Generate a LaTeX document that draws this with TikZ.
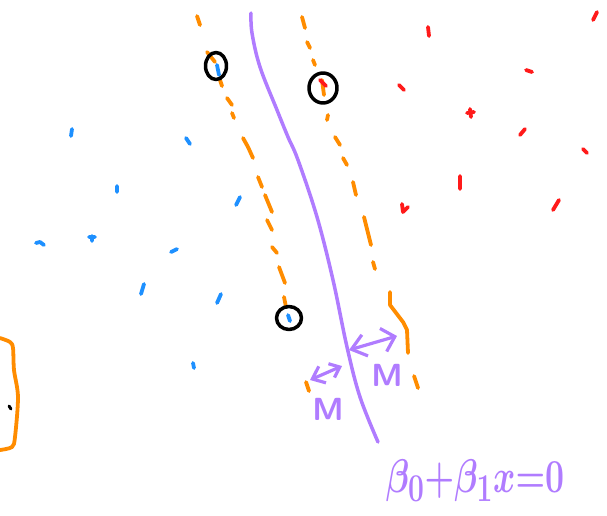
\documentclass[tikz,border=0pt]{standalone}
\usepackage{fontspec}
\usetikzlibrary{arrows.meta,shapes.geometric}
\definecolor{hpurple}{RGB}{176,124,255}
\definecolor{horange}{RGB}{255,140,0}
\definecolor{hblue}{RGB}{30,144,255}
\definecolor{hred}{RGB}{255,26,26}
\begin{document}
\begin{tikzpicture}[x=1pt,y=-1pt,line cap=round,line join=round,
  hyper/.style={hpurple,line width=3.5pt},
  margin/.style={horange,line width=3.8pt},
  ring/.style={draw=black,line width=3.5pt,ellipse,inner sep=0pt},
  bpt/.style={hblue,line width=3.8pt},
  rpt/.style={hred,line width=3.8pt},
  marrbig/.style={hpurple,line width=3.2pt,{Straight Barb[length=14pt,width=22pt]}-{Straight Barb[length=12pt,width=24pt]}},
  marrsmall/.style={hpurple,line width=3.2pt,{Straight Barb[length=11pt,width=18pt]}-{Straight Barb[length=9pt,width=15pt]}},
  lbl/.style={text=hpurple,inner sep=0pt}]
\useasboundingbox (0,0) rectangle (607,515);
% separating hyperplane
\draw[hyper] plot[smooth,tension=0.6] coordinates {(251,13) (252,33) (260,67) (277,110) (288,137) (298,160) (317,217) (333,280) (347,347) (360,397) (378,442)};
% left margin (dashed, hand drawn)
\draw[margin] (197,16)--(200,25) (207,52)--(215,62) (220,80)--(222,86)
  (227,98)--(232,105) (232,113)--(234,118) (243,138)--(248,147)--(253,158)
  (258,177)--(262,187) (265,195)--(272,212) (267,220)--(272,230)
  (272,247)--(277,253) (279,267)--(285,283) (284,297)--(286,307);
% right margin
\draw[margin] (302,17)--(305,28) (307,42)--(310,48) (313,60)--(315,65)
  (322,80)--(324,95) (328,115)--(327,120) (335,137)--(340,145)
  (343,158)--(347,165) (353,182)--(356,195) (364,217)--(371,245)
  (373,262)--(375,269) (390,292)--(390,305)--(403,322)--(407,330)--(408,353)
  (414,376)--(418,388) (306,382)--(309,391);
% left bracket
\draw[margin] plot[smooth] coordinates {(0,338) (10,342) (13,348) (14,370) (18,397) (15,437) (12,447) (0,450)};
\draw[black,line width=3pt] (9,406)--(11,409);
% blue points
\draw[bpt] (72,129)--(71,136) (186,138)--(190,144) (117,186)--(117,192)
  (240,197)--(236,205) (36,243)--(40,242)--(44,245) (89,237)--(95,237) (92,236)--(92,241)
  (171,252)--(177,249) (144,284)--(141,294) (221,294)--(217,303) (193,363)--(194,368)
  (217,65)--(219,75) (288,315)--(290,321);
% red points
\draw[rpt] (597,12)--(593,20) (428,27)--(429,36) (526,70)--(532,72)
  (399,85)--(404,90) (467,113)--(474,112) (470,109)--(471,117)
  (525,129)--(520,135) (583,149)--(587,153) (460,176)--(460,189)
  (559,200)--(553,210) (402,204)--(403,212)--(408,207) (320,80)--(326,86);
% support vectors
\node[ring,minimum width=21pt,minimum height=27pt] (sv1) at (216,66) {};
\node[ring,minimum width=28pt,minimum height=30pt] (sv2) at (323,88) {};
\node[ring,minimum width=25pt,minimum height=23pt] (sv3) at (289,318) {};
% margin arrows
\coordinate (hR) at (349,350);
\coordinate (mR) at (397,336);
\coordinate (mL) at (310,380);
\coordinate (hL) at (342,366);
\draw[marrbig] (hR) -- (mR);
\draw[marrsmall] (mL) -- (hL);
% labels
\node[lbl,font=\fontsize{32}{32}\selectfont\sffamily\bfseries] (mright) at (387,375) {M};
\node[lbl,font=\fontsize{32}{32}\selectfont\sffamily\bfseries] (mleft) at (328,409) {M};
\node[lbl,font=\Huge\boldmath] (eq) at (475,481) {\scalebox{1.36}[1.9]{$\beta_0{+}\beta_1x{=}0$}};
\end{tikzpicture}
\end{document}
